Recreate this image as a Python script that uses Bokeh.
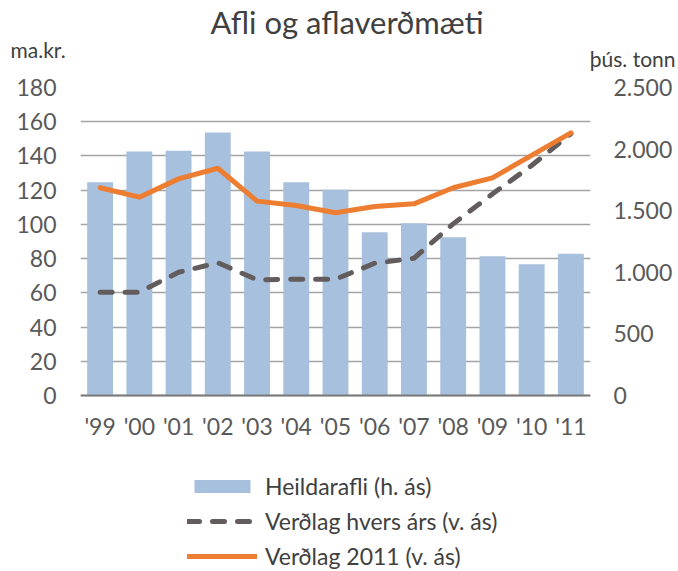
from bokeh.plotting import figure
from bokeh.models import (Range1d, LinearAxis, FixedTicker, Legend, LegendItem,
                          Title, ColumnDataSource, FactorRange)
from bokeh.embed import file_html
from bokeh.resources import INLINE

years = ["'99", "'00", "'01", "'02", "'03", "'04", "'05", "'06", "'07", "'08", "'09", "'10", "'11"]
heildarafli = [1731, 1980, 1986, 2135, 1980, 1731, 1670, 1326, 1399, 1285, 1131, 1066, 1150]
verdlag_hvers_ars = [60.4, 60.4, 72.0, 77.6, 67.6, 68.0, 68.0, 77.3, 80.2, 100.3, 117.8, 134.4, 153.0]
verdlag_2011 = [121.4, 115.9, 126.6, 132.8, 113.6, 111.0, 106.8, 110.5, 112.0, 121.4, 127.2, 140.3, 153.5]
left_ticks = [0, 20, 40, 60, 80, 100, 120, 140, 160, 180]
right_ticks = [0, 500, 1000, 1500, 2000, 2500]
right_labels = ["0", "500", "1.000", "1.500", "2.000", "2.500"]

FONT = "Lato"
TXT = "#595959"

# layout geometry (pixels)
W, H = 678, 571
TOP, ZERO_Y = 87, 395          # y pixel of 180 and of 0
LEFT, RIGHT = 80, 590
px_per_unit = (ZERO_Y - TOP) / 180.0
below_zero = (H - ZERO_Y) / px_per_unit   # room under 0 used for labels + legend
LMAX, RMAX = 180, 2500

src = ColumnDataSource(dict(year=years, afli=heildarafli,
                            hvers=verdlag_hvers_ars, v2011=verdlag_2011))

p = figure(width=W, height=H, output_backend="svg", toolbar_location=None,
           x_range=FactorRange(factors=years, range_padding=0),
           y_range=Range1d(-below_zero, LMAX), title=None,
           min_border_left=LEFT, min_border_right=W - RIGHT,
           min_border_top=TOP, min_border_bottom=0)
p.extra_y_ranges = {"r": Range1d(-below_zero * RMAX / LMAX, RMAX)}
p.outline_line_color = None

bars = p.vbar(x="year", top="afli", bottom=0, width=0.66, y_range_name="r", source=src,
              fill_color="#a7c0de", line_color=None)
l1 = p.line(x="year", y="hvers", source=src, line_color="#625c5d", line_width=5,
            line_dash="12 13", line_cap="round")
l2 = p.line(x="year", y="v2011", source=src, line_color="#ed7d31", line_width=5,
            line_cap="round", line_join="round")

# left axis
ya = p.yaxis[0]
ya.ticker = FixedTicker(ticks=left_ticks)
ya.axis_line_color = None
ya.major_tick_line_color = None
ya.major_tick_out = 0
ya.minor_tick_line_color = None
ya.major_label_standoff = 24
ya.major_label_text_font = FONT
ya.major_label_text_font_size = "23px"
ya.major_label_text_color = TXT

# right axis
ra = LinearAxis(y_range_name="r", ticker=FixedTicker(ticks=right_ticks),
                major_label_overrides=dict(zip(right_ticks, right_labels)))
ra.axis_line_color = None
ra.major_tick_line_color = None
ra.major_tick_out = 0
ra.minor_tick_line_color = None
ra.major_label_standoff = 23
ra.major_label_text_font = FONT
ra.major_label_text_font_size = "23px"
ra.major_label_text_color = TXT
p.add_layout(ra, "right")

# x axis, drawn at the zero line
xa = p.xaxis[0]
xa.fixed_location = 0
xa.axis_line_color = "#7a7a7a"
xa.axis_line_width = 2
xa.major_tick_line_color = None
xa.major_tick_out = 0
xa.minor_tick_line_color = None
xa.major_label_standoff = 16
xa.major_label_text_font = FONT
xa.major_label_text_font_size = "23px"
xa.major_label_text_color = TXT

p.xgrid.visible = False
p.ygrid.ticker = FixedTicker(ticks=left_ticks)
p.ygrid.grid_line_color = "#a3a3a3"
p.ygrid.grid_line_width = 1.6

# titles (nearest to frame first)
p.add_layout(Title(text="þús. tonn", align="right", offset=-85, standoff=34,
                   text_font=FONT, text_font_size="21px", text_font_style="normal",
                   text_color="#404040"), "above")
p.add_layout(Title(text="ma.kr.", align="left", offset=-70, standoff=-70,
                   text_font=FONT, text_font_size="21px", text_font_style="normal",
                   text_color="#404040"), "above")
p.add_layout(Title(text="Afli og aflaverðmæti", align="left", offset=130, standoff=-29,
                   text_font=FONT, text_font_size="31px", text_font_style="normal",
                   text_color="#404040"), "above")

legend = Legend(items=[LegendItem(label="Heildarafli (h. ás)", renderers=[bars]),
                       LegendItem(label="Verðlag hvers árs (v. ás)", renderers=[l1]),
                       LegendItem(label="Verðlag 2011 (v. ás)", renderers=[l2])],
                location=(107, 1), orientation="vertical",
                label_text_font=FONT, label_text_font_size="23px", label_text_color="#404040",
                glyph_width=70, glyph_height=16, label_standoff=8, spacing=7,
                padding=0, margin=0, border_line_color=None, background_fill_alpha=0)
p.add_layout(legend)

open("out.html", "w").write(file_html(p, INLINE))
